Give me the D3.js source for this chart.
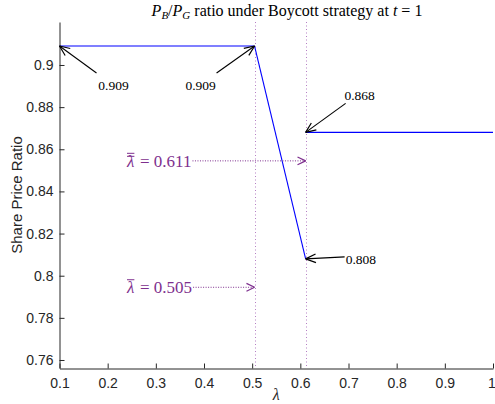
<!DOCTYPE html>
<html>
<head>
<meta charset="utf-8">
<script src="https://cdn.jsdelivr.net/npm/d3@7"></script>
<style>
  body { margin: 0; background: #fff; }
  svg { display: block; }
</style>
</head>
<body>
<svg id="chart" width="495" height="404"></svg>
<script>
// Share price ratio P_B/P_G as a function of lambda (Boycott strategy, t = 1)
const lambdaFlat = [0.1, 0.505];
const ratioFlat = [0.909, 0.909];
const lambdaDrop = [0.505, 0.611];
const ratioDrop = [0.909, 0.808];
const lambdaHigh = [0.611, 1];
const ratioHigh = [0.868, 0.868];

const thresholds = [0.505, 0.611];
const thresholdNames = ["single", "double"];
const thresholdLabelY = [0.7945, 0.8545];

// value callouts: point [lambda, ratio] and label text
const calloutX = [0.1, 0.505, 0.611, 0.611];
const calloutY = [0.909, 0.909, 0.868, 0.808];
const calloutText = ["0.909", "0.909", "0.868", "0.808"];

const xTicks = [0.1, 0.2, 0.3, 0.4, 0.5, 0.6, 0.7, 0.8, 0.9, 1];
const yTicks = [0.76, 0.78, 0.8, 0.82, 0.84, 0.86, 0.88, 0.9];

const svg = d3.select("#chart");
const plotLeft = 59.5, plotRight = 493, plotTop = 22, plotBottom = 368;
const x = d3.scaleLinear().domain([0.1, 1]).range([plotLeft, plotRight]);
const y = d3.scaleLinear().domain([0.7562, 0.9204]).range([plotBottom, plotTop]);

const purple = "#7E2F8E";
const axisColor = "#262626";
const serif = "'Liberation Serif', 'DejaVu Serif', serif";
const sans = "'Liberation Sans', Arial, Helvetica, sans-serif";

// vertical dotted threshold lines
svg.selectAll("line.thr").data(thresholds).enter().append("line")
  .attr("class", "thr")
  .attr("x1", d => Math.round(x(d)) + 0.5).attr("x2", d => Math.round(x(d)) + 0.5)
  .attr("y1", plotTop).attr("y2", plotBottom)
  .attr("stroke", "#b57fc4").attr("stroke-width", 1)
  .attr("stroke-dasharray", "1,2.5");

// ratio curve
const line = d3.line().x(d => x(d[0])).y(d => y(d[1]));
const segs = [
  d3.zip(lambdaFlat, ratioFlat),
  d3.zip(lambdaDrop, ratioDrop),
  d3.zip(lambdaHigh, ratioHigh)
];
svg.selectAll("path.curve").data(segs).enter().append("path")
  .attr("class", "curve")
  .attr("d", line)
  .attr("fill", "none")
  .attr("stroke", "#0000ff")
  .attr("stroke-width", 1.1);

// axes
const xAxis = d3.axisBottom(x).tickValues(xTicks).tickSizeInner(-5).tickSizeOuter(0)
  .tickPadding(10).tickFormat(d => d3.format("~g")(d));
const yAxis = d3.axisLeft(y).tickValues(yTicks).tickSizeInner(-5).tickSizeOuter(0)
  .tickPadding(6).tickFormat(d => d3.format("~g")(d));

const gx = svg.append("g").attr("transform", `translate(0,${plotBottom + 0.5})`).call(xAxis);
const gy = svg.append("g").attr("transform", `translate(${plotLeft},0)`).call(yAxis);
[gx, gy].forEach(g => {
  g.select(".domain").attr("stroke", axisColor);
  g.selectAll(".tick line").attr("stroke", axisColor);
  g.selectAll(".tick text").attr("fill", axisColor)
    .style("font-family", sans).style("font-size", "14px");
});
// keep the last x tick label inside the frame
gx.selectAll(".tick text").filter(d => d === 1).attr("dx", -1.5);

// axis titles
svg.append("text")
  .attr("transform", `translate(22,${(plotTop + plotBottom) / 2}) rotate(-90)`)
  .attr("text-anchor", "middle")
  .style("font-family", sans).style("font-size", "15px").attr("fill", axisColor)
  .text("Share Price Ratio");
svg.append("text")
  .attr("x", (plotLeft + plotRight) / 2).attr("y", 400)
  .attr("text-anchor", "middle")
  .style("font-family", serif).style("font-size", "16px").style("font-style", "italic")
  .attr("fill", axisColor)
  .text("λ");

// title
const title = svg.append("text")
  .attr("x", 287).attr("y", 16)
  .attr("text-anchor", "middle")
  .style("font-family", serif).style("font-size", "16px").attr("fill", "#000");
title.append("tspan").style("font-style", "italic").text("P");
title.append("tspan").style("font-style", "italic").style("font-size", "11px").attr("dy", 3).text("B");
title.append("tspan").attr("dy", -3).text("/");
title.append("tspan").style("font-style", "italic").text("P");
title.append("tspan").style("font-style", "italic").style("font-size", "11px").attr("dy", 3).text("G");
title.append("tspan").attr("dy", -3).text(" ratio under Boycott strategy at ");
title.append("tspan").style("font-style", "italic").text("t");
title.append("tspan").text(" = 1");

// black value callouts with open arrowheads
const tailOffsets = [[37, 27], [-38, 27], [40, -29], [39, -2]];
const labelOffsets = [[54, 39], [-54, 39], [54, -37], [55, 0]];
function arrowHead(g, x1, y1, x2, y2, color, len, spread) {
  const a = Math.atan2(y1 - y2, x1 - x2);
  [-spread, spread].forEach(s => {
    g.append("line")
      .attr("x1", x2).attr("y1", y2)
      .attr("x2", x2 + len * Math.cos(a + s)).attr("y2", y2 + len * Math.sin(a + s))
      .attr("stroke", color).attr("stroke-width", 1.2);
  });
}
const callouts = svg.append("g");
calloutX.forEach((cx, i) => {
  const px = x(cx), py = y(calloutY[i]);
  const tx = px + tailOffsets[i][0], ty = py + tailOffsets[i][1];
  callouts.append("line")
    .attr("x1", tx).attr("y1", ty).attr("x2", px).attr("y2", py)
    .attr("stroke", "#000").attr("stroke-width", 1.1);
  arrowHead(callouts, tx, ty, px, py, "#000", 11, 0.4);
  callouts.append("text")
    .attr("x", px + labelOffsets[i][0]).attr("y", py + labelOffsets[i][1])
    .attr("dy", "0.35em")
    .attr("text-anchor", i === 3 ? "start" : "middle")
    .attr("dx", i === 3 ? -15 : 0)
    .style("font-family", serif).style("font-size", "13.5px").attr("fill", "#000")
    .text(calloutText[i]);
});

// purple threshold labels with dotted arrows
thresholds.forEach((t, i) => {
  const ly = y(thresholdLabelY[i]);
  const g = svg.append("g");
  const lam = g.append("text")
    .attr("x", 127).attr("y", ly).attr("dy", "0.35em")
    .style("font-family", serif).style("font-size", "17px").style("font-style", "italic")
    .attr("fill", purple).text("λ");
  const rest = g.append("text")
    .attr("x", 140).attr("y", ly).attr("dy", "0.35em")
    .style("font-family", serif).style("font-size", "17px")
    .attr("fill", purple).text("= " + d3.format(".3f")(t));
  const bb = lam.node().getBBox();
  const bars = thresholdNames[i] === "double" ? [0, 3] : [0];
  bars.forEach(o => {
    g.append("line")
      .attr("x1", bb.x + 1).attr("x2", bb.x + bb.width)
      .attr("y1", bb.y + 1.5 + o).attr("y2", bb.y + 1.5 + o)
      .attr("stroke", purple).attr("stroke-width", 1);
  });
  const rb = rest.node().getBBox();
  const x0 = rb.x + rb.width + 1, x1 = x(t);
  g.append("line")
    .attr("x1", x0).attr("x2", x1).attr("y1", ly).attr("y2", ly)
    .attr("stroke", purple).attr("stroke-width", 1)
    .attr("stroke-dasharray", "1,1.5");
  arrowHead(g, x0, ly, x1, ly, purple, 9, 0.45);
});
</script>
</body>
</html>
